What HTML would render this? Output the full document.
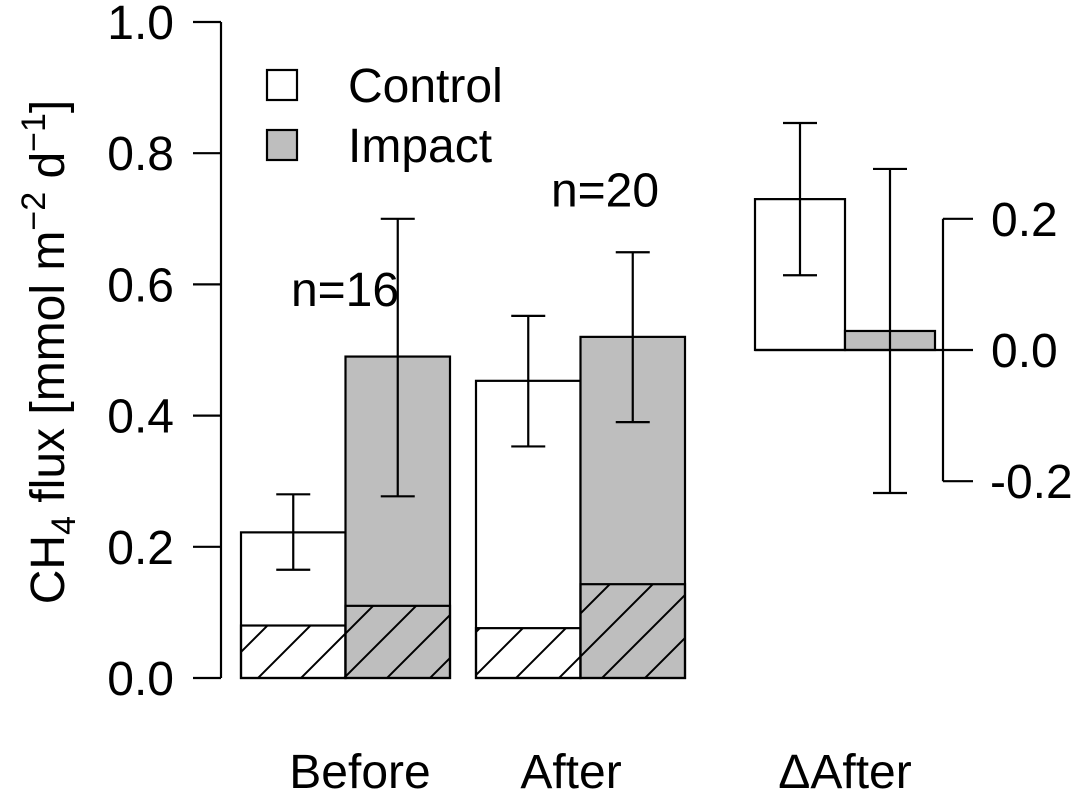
<!DOCTYPE html>
<html><head><meta charset="utf-8"><style>
body{margin:0;background:#fff}
text{font-family:"Liberation Sans",Arial,sans-serif;fill:#000}
</style></head><body>
<svg id="chart" width="1081" height="793" viewBox="0 0 1081 793" xmlns="http://www.w3.org/2000/svg">
<defs>
<pattern id="hatch" patternUnits="userSpaceOnUse" width="43" height="43" x="0" y="678">
<path d="M0,43 L43,0 M-10,10 L10,-10 M33,53 L53,33" stroke="#000" stroke-width="2"/>
</pattern>
</defs>
<g id="root"></g>
</svg>
<script>
const groups=["Before","After"];
const controlMean=[0.222,0.453];
const controlLo=[0.165,0.353];
const controlHi=[0.280,0.552];
const controlHatch=[0.080,0.076];
const impactMean=[0.490,0.520];
const impactLo=[0.277,0.390];
const impactHi=[0.700,0.649];
const impactHatch=[0.110,0.143];
const nLabels=["n=16","n=20"];
const nValues=[0.593,0.745];
const deltaMean=[0.230,0.029];
const deltaLo=[0.114,-0.218];
const deltaHi=[0.346,0.276];
const leftTicks=[0,0.2,0.4,0.6,0.8,1.0];
const rightTicks=[-0.2,0,0.2];

const NS="http://www.w3.org/2000/svg";
const root=document.getElementById('root');
const y=v=>678-v*656;
const yr=v=>350-v*656;
function el(tag,attrs,txt){const e=document.createElementNS(NS,tag);for(const k in attrs)e.setAttribute(k,attrs[k]);if(txt!==undefined)e.textContent=txt;root.appendChild(e);return e;}
const S={stroke:"#000","stroke-width":2.2};
const FS=48;

let ax=el('line',{x1:221,x2:221,y1:y(0),y2:y(1),...S});


leftTicks.forEach(t=>{
  let l=el('line',{x1:193,x2:221,y1:y(t),y2:y(t),...S});
  
  
  let tx=el('text',{x:174,y:y(t)+17,"text-anchor":"end","font-size":FS},t.toFixed(1));
  
  
});
let ax2=el('line',{x1:943,x2:943,y1:yr(-0.2),y2:yr(0.2),...S});


rightTicks.forEach(t=>{
  let l=el('line',{x1:943,x2:973,y1:yr(t),y2:yr(t),...S});
  
  
  let tx=el('text',{x:t<0?990:991,y:yr(t)+17,"text-anchor":"start","font-size":FS},t===0?"0.0":t.toFixed(1));
  
  
});

function bar(x,w,v,fill,yf,name){
  let r=el('rect',{x:x,y:Math.min(yf(v),yf(0)),width:w,height:Math.abs(yf(0)-yf(v)),fill:fill,...S});
  
  
}
function hatch(x,w,v,name){
  let r=el('rect',{x:x,y:y(v),width:w,height:y(0)-y(v),fill:"url(#hatch)",...S});
  
  
}
function err(cx,lo,hi,yf,name){
  let g=el('path',{d:`M${cx},${yf(lo)}V${yf(hi)}M${cx-17},${yf(lo)}H${cx+17}M${cx-17},${yf(hi)}H${cx+17}`,fill:"none",...S});
  
  
}
const gx=[241,476],bw=104.5;
const labelX=[360,571];
const nX=[345,605];
groups.forEach((gname,i)=>{
  const x0=gx[i],x1=gx[i]+bw;
  bar(x0,bw,controlMean[i],"#fff",y,'bar-control-'+gname.toLowerCase());
  hatch(x0,bw,controlHatch[i],'hatch-control-'+gname.toLowerCase());
  bar(x1,bw,impactMean[i],"#bebebe",y,'bar-impact-'+gname.toLowerCase());
  hatch(x1,bw,impactHatch[i],'hatch-impact-'+gname.toLowerCase());
  err(x0+bw/2,controlLo[i],controlHi[i],y,'error-control-'+gname.toLowerCase());
  err(x1+bw/2,impactLo[i],impactHi[i],y,'error-impact-'+gname.toLowerCase());
  let n=el('text',{x:nX[i],y:y(nValues[i])+17,"text-anchor":"middle","font-size":FS},nLabels[i]);
  
  
  let gl=el('text',{x:labelX[i],y:788,"text-anchor":"middle","font-size":FS},gname);
  
  
});
const dx=[755,845],dw=90;
["control","impact"].forEach((k,i)=>{
  bar(dx[i],dw,deltaMean[i],i?"#bebebe":"#fff",yr,'bar-delta-'+k);
  err(dx[i]+dw/2,deltaLo[i],deltaHi[i],yr,'error-delta-'+k);
});
let bl=el('line',{x1:755,x2:943,y1:yr(0),y2:yr(0),...S});


let dl=el('text',{x:845,y:788,"text-anchor":"middle","font-size":FS},"ΔAfter");



[["Control","#fff",85],["Impact","#bebebe",145]].forEach(([t,f,cy])=>{
  let r=el('rect',{x:267,y:cy-15,width:30,height:30,fill:f,...S});
  
  
  let tx=el('text',{x:348,y:cy+17,"font-size":FS},t);
  
  
});
let yt=el('text',{x:0,y:0,"font-size":48,transform:"translate(64,352) rotate(-90)","text-anchor":"middle"});
yt.innerHTML='CH<tspan font-size="34" dy="11">4</tspan><tspan dy="-11"> flux [mmol m</tspan><tspan font-size="34" dy="-19">−2</tspan><tspan dy="19"> d</tspan><tspan font-size="34" dy="-19">−1</tspan><tspan dy="19">]</tspan>';


</script>
</body></html>
